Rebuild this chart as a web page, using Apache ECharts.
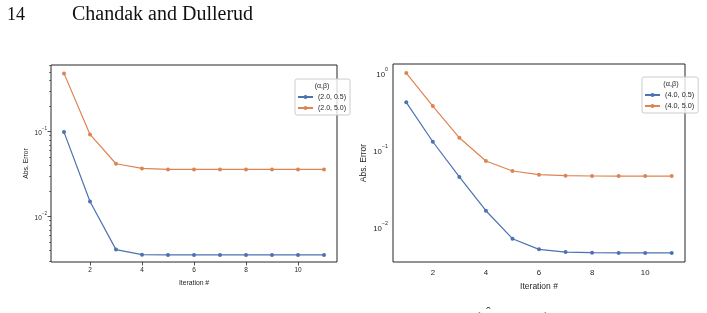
<!DOCTYPE html>
<html>
<head>
<meta charset="utf-8">
<script src="https://cdn.jsdelivr.net/npm/echarts@6/dist/echarts.min.js"></script>
<style>
  html, body { margin: 0; padding: 0; background: #fff; }
  #chart { width: 707px; height: 313px; }
</style>
</head>
<body>
<div id="chart"></div>
<script>
// iterations
const iterations = [1, 2, 3, 4, 5, 6, 7, 8, 9, 10, 11];

// left panel (alpha = 2.0)
const leftNames = ['(2.0, 0.5)', '(2.0, 5.0)'];
const leftBeta05 = [0.099, 0.0151, 0.0041, 0.00357, 0.00355, 0.00355, 0.00355, 0.00355, 0.00355, 0.00355, 0.00355];
const leftBeta50 = [0.486, 0.093, 0.042, 0.037, 0.036, 0.036, 0.036, 0.036, 0.036, 0.036, 0.036];

// right panel (alpha = 4.0)
const rightNames = ['(4.0, 0.5)', '(4.0, 5.0)'];
const rightBeta05 = [0.414, 0.128, 0.0448, 0.0164, 0.00713, 0.00519, 0.00479, 0.0047, 0.00466, 0.00466, 0.00466];
const rightBeta50 = [0.99, 0.37, 0.144, 0.072, 0.0535, 0.048, 0.0466, 0.0461, 0.046, 0.046, 0.046];

// tick labels
const xTicks = [2, 4, 6, 8, 10];
const leftYTicks = [0.01, 0.1];
const rightYTicks = [0.01, 0.1, 1];
const leftMinorTicks = [0.003, 0.004, 0.005, 0.006, 0.007, 0.008, 0.009,
  0.02, 0.03, 0.04, 0.05, 0.06, 0.07, 0.08, 0.09, 0.2, 0.3, 0.4, 0.5, 0.6];

const blue = '#4c72b0';
const orange = '#dd8452';
const ink = '#262626';
const font = 'Liberation Sans';

function pair(xs, ys) {
  return xs.map((x, i) => [x, ys[i]]);
}

function powLabel(v) {
  const e = Math.round(Math.log10(v));
  const s = e < 0 ? '\u2212' + (-e) : String(e);
  return '{b|10}{s|' + s + '}';
}

function lineSeries(name, xi, yi, data, color) {
  return {
    name: name,
    type: 'line',
    xAxisIndex: xi,
    yAxisIndex: yi,
    data: data,
    symbol: 'circle',
    symbolSize: 4,
    lineStyle: { color: color, width: 1.2 },
    itemStyle: { color: color },
    emphasis: { disabled: true },
    animation: false
  };
}

function legendBox(names, left, top, fs) {
  return {
    data: names,
    orient: 'vertical',
    left: left,
    top: top,
    padding: [14, 4, 3, 2],
    itemGap: 3,
    itemWidth: 15,
    itemHeight: 5,
    backgroundColor: 'rgba(255,255,255,0.8)',
    borderColor: '#cccccc',
    borderWidth: 1,
    borderRadius: 2,
    selectedMode: false,
    textStyle: { fontFamily: font, fontSize: fs, color: ink, lineHeight: 8 }
  };
}

const chart = echarts.init(document.getElementById('chart'), null, { renderer: 'canvas' });

const option = {
  animation: false,
  backgroundColor: '#fff',
  grid: [
    { left: 51, top: 65, width: 286, height: 197, show: true, borderColor: ink, borderWidth: 1, backgroundColor: 'transparent' },
    { left: 393, top: 64, width: 292, height: 198, show: true, borderColor: ink, borderWidth: 1, backgroundColor: 'transparent' }
  ],
  xAxis: [
    {
      type: 'value', gridIndex: 0, min: 0.5, max: 11.5,
      name: 'Iteration #', nameLocation: 'middle', nameGap: 18,
      nameTextStyle: { fontFamily: font, fontSize: 6.8, color: ink },
      axisLine: { show: false },
      splitLine: { show: false },
      axisTick: { show: true, length: 3.5, lineStyle: { color: ink, width: 0.8 }, customValues: xTicks },
      axisLabel: { fontFamily: font, fontSize: 6.5, color: ink, margin: 5, customValues: xTicks }
    },
    {
      type: 'value', gridIndex: 1, min: 0.5, max: 11.5,
      name: 'Iteration #', nameLocation: 'middle', nameGap: 19,
      nameTextStyle: { fontFamily: font, fontSize: 8.5, color: ink },
      axisLine: { show: false },
      splitLine: { show: false },
      axisTick: { show: false, customValues: xTicks },
      axisLabel: { fontFamily: font, fontSize: 7.8, color: ink, margin: 7, customValues: xTicks }
    }
  ],
  yAxis: [
    {
      type: 'log', gridIndex: 0, min: 0.00293, max: 0.61,
      name: 'Abs. Error', nameLocation: 'middle', nameGap: 21, nameRotate: 90,
      nameTextStyle: { fontFamily: font, fontSize: 6.8, color: ink },
      axisLine: { show: false },
      splitLine: { show: false },
      minorTick: { show: false },
      axisTick: { show: true, length: 3.5, lineStyle: { color: ink, width: 0.8 }, customValues: leftYTicks },
      axisLabel: {
        margin: 4, customValues: leftYTicks, formatter: powLabel,
        rich: {
          b: { fontFamily: font, fontSize: 6.5, color: ink, lineHeight: 10, verticalAlign: 'bottom' },
          s: { fontFamily: font, fontSize: 4.6, color: ink, lineHeight: 10, verticalAlign: 'top' }
        }
      }
    },
    {
      // minor ticks of the left log axis
      type: 'log', gridIndex: 0, min: 0.00293, max: 0.61, position: 'left',
      axisLine: { show: false },
      splitLine: { show: false },
      axisTick: { show: true, length: 2, lineStyle: { color: ink, width: 0.6 }, customValues: leftMinorTicks },
      axisLabel: { show: false }
    },
    {
      type: 'log', gridIndex: 1, min: 0.00356, max: 1.297,
      name: 'Abs. Error', nameLocation: 'middle', nameGap: 25, nameRotate: 90,
      nameTextStyle: { fontFamily: font, fontSize: 8.5, color: ink },
      axisLine: { show: false },
      splitLine: { show: false },
      axisTick: { show: false, customValues: rightYTicks },
      axisLabel: {
        margin: 5, customValues: rightYTicks, formatter: powLabel,
        rich: {
          b: { fontFamily: font, fontSize: 7.8, color: ink, lineHeight: 12, verticalAlign: 'bottom' },
          s: { fontFamily: font, fontSize: 5.4, color: ink, lineHeight: 12, verticalAlign: 'top' }
        }
      }
    }
  ],
  legend: [
    legendBox(leftNames, 295, 79, 7),
    legendBox(rightNames, 642, 77, 7.3)
  ],
  graphic: [
    { type: 'text', left: 7, top: 6, style: { text: '14', font: '18px "Liberation Serif"', fill: '#111' } },
    { type: 'text', left: 72, top: 5, style: { text: 'Chandak and Dullerud', font: '20px "Liberation Serif"', fill: '#111' } },
    { type: 'text', x: 322, y: 86, style: { text: '(\u03b1,\u03b2)', font: '7px "Liberation Sans"', fill: ink, align: 'center', verticalAlign: 'middle' }, z: 10 },
    { type: 'text', x: 671, y: 84, style: { text: '(\u03b1,\u03b2)', font: '7.3px "Liberation Sans"', fill: ink, align: 'center', verticalAlign: 'middle' }, z: 10 },
    { type: 'text', x: 476, y: 311, style: { text: '(', font: '14px "Liberation Serif"', fill: '#333' } },
    { type: 'text', x: 486, y: 306, style: { text: '\u02c6', font: '14px "Liberation Serif"', fill: '#333' } },
    { type: 'text', x: 544, y: 311, style: { text: ')', font: '14px "Liberation Serif"', fill: '#333' } }
  ],
  series: [
    lineSeries(leftNames[0], 0, 0, pair(iterations, leftBeta05), blue),
    lineSeries(leftNames[1], 0, 0, pair(iterations, leftBeta50), orange),
    lineSeries(rightNames[0], 1, 2, pair(iterations, rightBeta05), blue),
    lineSeries(rightNames[1], 1, 2, pair(iterations, rightBeta50), orange)
  ]
};

chart.setOption(option);
</script>
</body>
</html>
